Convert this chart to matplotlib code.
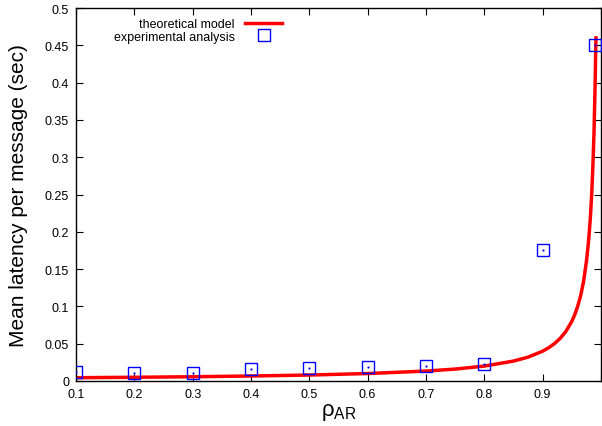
import matplotlib.pyplot as plt

plt.rcParams['font.family'] = ['Liberation Sans', 'DejaVu Sans']

# experimental analysis
rho_exp = [0.1, 0.2, 0.3, 0.4, 0.5, 0.6, 0.7, 0.8, 0.9, 0.99]
lat_exp = [0.012, 0.011, 0.011, 0.016, 0.018, 0.019, 0.020, 0.023, 0.175, 0.450]

# theoretical model
rho_th = [0.1, 0.2, 0.3, 0.4, 0.5, 0.6, 0.7, 0.75, 0.8, 0.85, 0.875, 0.9, 0.91, 0.92,
          0.93, 0.94, 0.95, 0.955, 0.96, 0.965, 0.97, 0.975, 0.978, 0.98, 0.982,
          0.984, 0.986, 0.988, 0.99, 0.9913]
lat_th = [0.0044, 0.005, 0.0057, 0.0067, 0.008, 0.010, 0.0133, 0.016, 0.020, 0.0267,
          0.032, 0.040, 0.0444, 0.050, 0.0571, 0.0667, 0.080, 0.0889, 0.100, 0.114,
          0.133, 0.160, 0.182, 0.200, 0.222, 0.250, 0.286, 0.333, 0.400, 0.460]

xticks = [0.1, 0.2, 0.3, 0.4, 0.5, 0.6, 0.7, 0.8, 0.9, 1.0]
xticklabels = ["0.1", "0.2", "0.3", "0.4", "0.5", "0.6", "0.7", "0.8", "0.9", ""]
yticks = [0, 0.05, 0.1, 0.15, 0.2, 0.25, 0.3, 0.35, 0.4, 0.45, 0.5]
yticklabels = ["0", "0.05", "0.1", "0.15", "0.2", "0.25", "0.3", "0.35", "0.4", "0.45", "0.5"]

fig = plt.figure(figsize=(6.02, 4.27), dpi=100)
ax = fig.add_axes([76 / 602, 45 / 427, 525 / 602, 373 / 427])

ax.plot(rho_th, lat_th, color="#ff0000", lw=2.5, label="theoretical model", zorder=2)
ax.plot(rho_exp, lat_exp, ls="none", marker="s", ms=8.5, mfc="none", mec="#0000ff",
        mew=1.0, label="experimental analysis", zorder=3)
ax.plot(rho_exp, lat_exp, ls="none", marker="s", ms=1, mfc="#0000ff", mec="#0000ff",
        mew=0.3, zorder=3)

ax.set_xlim(0.1, 1.0)
ax.set_ylim(0, 0.5)
ax.set_xticks(xticks)
ax.set_xticklabels(xticklabels)
ax.set_yticks(yticks)
ax.set_yticklabels(yticklabels)
ax.tick_params(direction="in", length=5, width=0.8, labelsize=9, top=True, right=True, pad=5)
for s in ax.spines.values():
    s.set_linewidth(1.0)

ax.set_ylabel("Mean latency per message (sec)", fontsize=15, labelpad=12)
ax.set_xlabel(r"$\mathregular{\rho_{AR}}$", fontsize=16, labelpad=1)

ax.legend(loc="upper left", bbox_to_anchor=(0.053, 1.0), frameon=False, fontsize=9,
          markerfirst=False, handlelength=3.0, handletextpad=0.8, labelspacing=0.05,
          borderaxespad=0.4)

fig.savefig("out.png", dpi=100)
